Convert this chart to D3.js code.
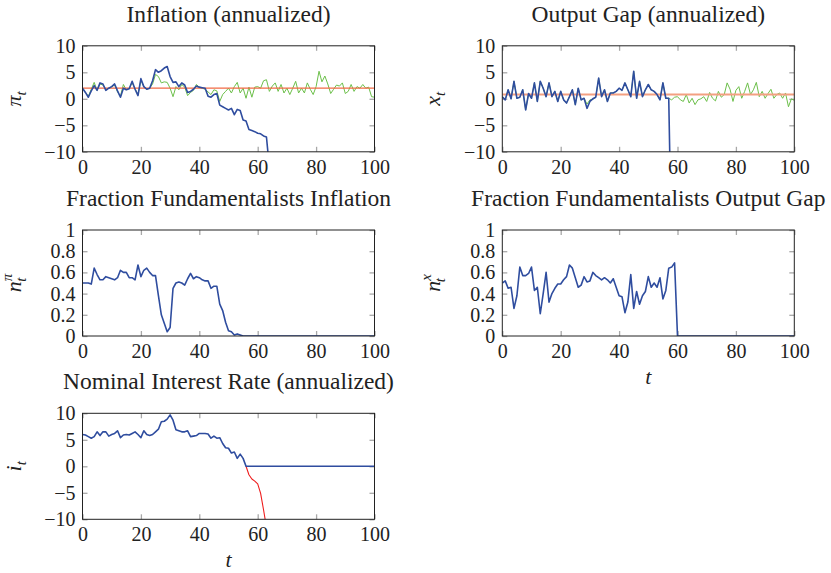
<!DOCTYPE html>
<html>
<head>
<meta charset="utf-8">
<script src="https://cdn.jsdelivr.net/npm/d3@7"></script>
<style>
  body { margin: 0; background: #fff; }
  svg text { font-family: "Liberation Serif", "Times New Roman", serif; fill: #222; }
</style>
</head>
<body>
<svg id="chart" width="831" height="573"></svg>
<script>
// inflation (annualized), t = 0..64, last point leaves the axis
const inflationBlue = [2.0,1.2,0.3,1.5,2.5,1.6,3.0,2.8,1.6,2.0,
  2.3,2.8,1.5,0.3,2.0,1.7,1.9,3.3,1.8,0.6,
  3.8,2.3,1.8,2.0,3.4,5.5,5.0,5.3,5.8,6.1,
  4.2,3.1,3.2,2.3,3.0,2.6,1.2,1.4,1.8,2.4,
  2.2,2.1,2.0,0.5,0.3,0.8,1.0,-1.2,-1.5,-1.8,
  -2.1,-1.8,-3.0,-2.0,-2.2,-4.0,-4.2,-5.8,-6.0,-6.2,
  -6.5,-6.6,-7.0,-7.2,-13];
const inflationGreen = [2.0,1.2,0.5,1.8,3.1,1.6,2.8,2.6,1.8,2.0,
  2.3,2.6,1.3,0.5,2.7,1.7,2.0,3.0,1.9,0.8,
  3.5,2.3,1.8,2.0,2.8,4.6,4.2,3.0,3.2,3.1,
  2.0,0.4,2.3,1.7,2.7,2.2,0.6,1.2,1.6,2.7,
  2.2,2.0,1.8,1.3,0.8,1.7,1.5,-0.5,0.8,1.4,
  2.0,1.1,2.3,3.1,1.1,2.0,0.1,2.2,0.3,2.2,
  2.3,2.0,3.4,3.6,1.4,2.4,3.0,1.4,2.7,1.1,
  2.0,0.8,2.0,3.3,1.1,2.0,1.1,3.0,1.8,0.8,
  2.3,5.2,3.2,4.3,2.8,1.0,1.8,2.6,2.4,3.0,
  1.0,1.4,2.7,1.4,2.3,2.0,2.7,2.0,2.2,0.4,0.3];
const inflationTarget = 2.0;

// output gap (annualized)
const gapBlue = [0.4,-0.2,1.7,0.0,3.3,0.1,0.3,1.7,-2.1,1.0,
  0.1,3.0,-0.5,3.3,2.0,0.4,3.0,0.4,1.4,-0.5,
  1.4,-0.2,-0.8,0.4,1.7,-1.1,2.0,-0.2,0.1,-1.8,
  -0.5,0.0,0.3,3.9,0.4,1.7,-0.5,1.1,1.1,1.4,
  2.0,1.6,3.0,1.7,0.4,5.2,0.1,3.3,0.4,1.7,
  2.7,1.7,1.4,0.8,-0.2,3.0,0.1,0.1,-30];
const gapGreen = [0.4,-0.2,1.7,0.0,3.3,0.1,0.3,1.7,-2.1,1.0,
  0.1,3.0,-0.5,3.3,2.0,0.4,3.0,0.4,1.4,-0.5,
  1.4,-0.2,-0.8,0.4,1.7,-1.1,2.0,-0.2,0.1,-1.0,
  -0.2,-0.1,0.3,3.9,0.4,1.7,-0.5,1.1,1.1,1.4,
  2.0,1.6,3.0,1.7,0.4,5.2,0.1,3.3,0.4,1.7,
  2.7,1.7,1.4,0.8,-0.2,3.0,0.1,0.1,-0.2,0.3,
  0.4,-0.2,-0.5,0.8,-0.8,0.1,-1.1,-0.2,0.0,0.4,
  -0.5,1.2,0.1,-0.4,1.4,0.3,0.8,3.0,1.8,-0.5,
  1.6,2.3,0.1,1.4,3.0,0.8,1.7,3.1,0.4,1.4,
  0.1,1.0,1.8,0.1,0.8,1.1,0.1,1.1,-1.5,0.0,-0.3];
const gapTarget = 0.8;

// fraction of fundamentalists
const fundInflation = [0.50,0.50,0.50,0.49,0.64,0.58,0.53,0.53,0.56,0.55,
  0.54,0.53,0.55,0.62,0.60,0.60,0.55,0.55,0.53,0.67,
  0.56,0.62,0.64,0.60,0.57,0.57,0.38,0.20,0.12,0.04,
  0.08,0.45,0.50,0.51,0.50,0.48,0.54,0.59,0.54,0.56,
  0.55,0.53,0.52,0.52,0.45,0.47,0.47,0.30,0.24,0.13,
  0.05,0.04,0.01,0.02,0.01,0,0,0,0,0,
  0,0,0,0,0,0,0,0,0,0,
  0,0,0,0,0,0,0,0,0,0,
  0,0,0,0,0,0,0,0,0,0,
  0,0,0,0,0,0,0,0,0,0,0];
const fundGap = [0.50,0.52,0.45,0.46,0.26,0.38,0.65,0.57,0.57,0.59,
  0.65,0.43,0.46,0.21,0.40,0.60,0.32,0.40,0.45,0.49,
  0.49,0.53,0.56,0.67,0.64,0.55,0.46,0.48,0.56,0.51,
  0.52,0.60,0.57,0.55,0.53,0.55,0.53,0.50,0.54,0.46,
  0.38,0.37,0.22,0.32,0.58,0.26,0.42,0.30,0.38,0.42,
  0.56,0.46,0.50,0.46,0.55,0.35,0.43,0.64,0.65,0.69,
  0,0,0,0,0,0,0,0,0,0,
  0,0,0,0,0,0,0,0,0,0,
  0,0,0,0,0,0,0,0,0,0,
  0,0,0,0,0,0,0,0,0,0,0];

// nominal interest rate: actual (bounded at zero) and shadow rate from t = 56
const rateBlue = [6.0,5.9,5.6,5.3,5.6,6.5,5.8,6.5,6.5,5.7,
  6.0,6.2,6.7,5.4,5.9,6.0,5.9,6.2,6.5,6.0,
  5.4,6.7,6.0,5.8,6.0,6.5,7.0,8.4,8.5,8.9,
  9.7,8.7,6.9,6.7,6.5,6.5,6.7,5.6,5.7,5.8,
  6.2,6.2,6.2,6.1,5.3,5.7,5.3,5.4,4.3,3.5,
  3.4,2.5,2.7,1.5,2.3,1.5,0,0,0,0,
  0,0,0,0,0,0,0,0,0,0,
  0,0,0,0,0,0,0,0,0,0,
  0,0,0,0,0,0,0,0,0,0,
  0,0,0,0,0,0,0,0,0,0,0];
const shadowStart = 56;
const rateShadow = [0,-1.6,-2.4,-2.8,-3.3,-5.1,-8.2,-11.5];

const xTicks = [0,20,40,60,80,100];
const wideTicks = [-10,-5,0,5,10];
const fracTicks = [0,0.2,0.4,0.6,0.8,1];

const BLUE = "#2f4d9f", GREEN = "#6cbf4a";
const FONT = "Liberation Serif, Times New Roman, serif";

const svg = d3.select("#chart");

function panel(o) {
  const x = d3.scaleLinear().domain([0, 100]).range([o.left, o.left + 292]);
  const y = d3.scaleLinear().domain(o.domain).range([o.top + 106, o.top]);
  const g = svg.append("g");
  const id = "clip" + o.key;
  svg.append("clipPath").attr("id", id).append("rect")
    .attr("x", o.left).attr("y", o.top).attr("width", 292).attr("height", 106);

  const fmt = d => d3.format("~g")(d);
  // labelled axes, ticks point inward
  g.append("g").attr("transform", `translate(0,${o.top + 106})`)
    .call(d3.axisBottom(x).tickValues(xTicks).tickSize(-5).tickPadding(8).tickFormat(fmt));
  g.append("g").attr("transform", `translate(${o.left},0)`)
    .call(d3.axisLeft(y).tickValues(o.ticks).tickSize(-5).tickPadding(7).tickFormat(fmt));
  g.append("g").attr("transform", `translate(0,${o.top})`)
    .call(d3.axisTop(x).tickValues(xTicks).tickSize(-5).tickFormat(""));
  g.append("g").attr("transform", `translate(${o.left + 292},0)`)
    .call(d3.axisRight(y).tickValues(o.ticks).tickSize(-5).tickFormat(""));
  g.selectAll(".domain").remove();
  g.selectAll("g").attr("font-family", FONT);
  g.selectAll(".tick line").attr("stroke", "#a8a8a8").attr("stroke-width", 1.3);
  g.selectAll(".tick text").attr("font-size", 20).attr("fill", "#222");

  const plot = g.append("g").attr("clip-path", `url(#${id})`);
  const line = (off) => d3.line().x((d, i) => x(i + off)).y(d => y(d));
  o.series.forEach(s => {
    plot.append("path").datum(s.data)
      .attr("d", line(s.offset || 0)(s.data))
      .attr("fill", "none").attr("stroke", s.color)
      .attr("stroke-width", s.width).attr("stroke-linejoin", "round");
  });

  g.append("rect").attr("x", o.left).attr("y", o.top).attr("width", 292).attr("height", 106)
    .attr("fill", "none").attr("stroke", "#222").attr("stroke-width", 1);

  g.append("text").attr("x", o.left + 146).attr("y", o.top - 24)
    .attr("text-anchor", "middle").attr("font-size", 23.5).text(o.title);

  // rotated y label
  const yl = g.append("text").attr("text-anchor", "middle")
    .attr("transform", `translate(${o.left - 62},${o.top + 53}) rotate(-90)`);
  yl.append("tspan").attr("font-style", "italic").attr("font-size", 22).text(o.ylab[0]);
  if (o.ylab[2]) {
    yl.append("tspan").attr("font-style", "italic").attr("font-size", 15).attr("dy", -9).text(o.ylab[2]);
    yl.append("tspan").attr("font-style", "italic").attr("font-size", 15).attr("dx", -8).attr("dy", 14).text(o.ylab[1]);
  } else {
    yl.append("tspan").attr("font-style", "italic").attr("font-size", 15).attr("dy", 5).text(o.ylab[1]);
  }

  if (o.xlab) {
    g.append("text").attr("x", o.left + 146).attr("y", o.top + 106 + 48)
      .attr("text-anchor", "middle").attr("font-style", "italic").attr("font-size", 22).text("t");
  }
}

panel({key: 1, left: 82.5, top: 45.8, domain: [-10, 10], ticks: wideTicks,
  title: "Inflation (annualized)", ylab: ["π", "t"],
  series: [
    {data: inflationGreen, color: GREEN, width: 1},
    {data: inflationGreen.map(() => inflationTarget), color: "#f26a45", width: 1.2},
    {data: inflationBlue, color: BLUE, width: 1.6}
  ]});

panel({key: 2, left: 502.3, top: 45.8, domain: [-10, 10], ticks: wideTicks,
  title: "Output Gap (annualized)", ylab: ["x", "t"],
  series: [
    {data: gapGreen, color: GREEN, width: 1},
    {data: gapGreen.map(() => gapTarget), color: "#f3a081", width: 2},
    {data: gapBlue, color: BLUE, width: 1.6}
  ]});

panel({key: 3, left: 82.5, top: 230, domain: [0, 1], ticks: fracTicks,
  title: "Fraction Fundamentalists Inflation", ylab: ["n", "t", "π"],
  series: [{data: fundInflation, color: BLUE, width: 1.6}]});

panel({key: 4, left: 502.3, top: 230, domain: [0, 1], ticks: fracTicks, xlab: true,
  title: "Fraction Fundamentalists Output Gap", ylab: ["n", "t", "x"],
  series: [{data: fundGap, color: BLUE, width: 1.6}]});

panel({key: 5, left: 82.5, top: 413.3, domain: [-10, 10], ticks: wideTicks, xlab: true,
  title: "Nominal Interest Rate (annualized)", ylab: ["i", "t"],
  series: [
    {data: rateShadow, offset: shadowStart, color: "#ee1c1c", width: 1.1},
    {data: rateBlue, color: BLUE, width: 1.6}
  ]});
</script>
</body>
</html>
